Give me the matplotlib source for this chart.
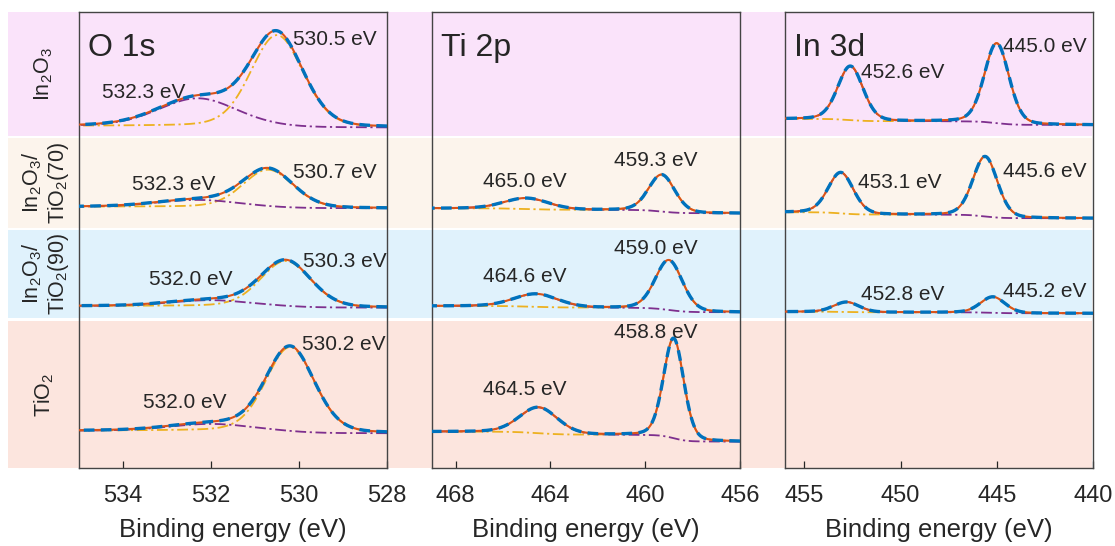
import numpy as np
import matplotlib
matplotlib.use("Agg")
import matplotlib.pyplot as plt
from matplotlib.patches import Rectangle

plt.rcParams["font.family"] = ["Liberation Sans", "DejaVu Sans"]
plt.rcParams["mathtext.fontset"] = "custom"
plt.rcParams["mathtext.rm"] = "Liberation Sans"
plt.rcParams["mathtext.it"] = "Liberation Sans:italic"

# samples, top to bottom
samples = [r"In$_2$O$_3$", "In$_2$O$_3$/\nTiO$_2$(70)",
           "In$_2$O$_3$/\nTiO$_2$(90)", r"TiO$_2$"]
band_colors = ["#fae3fa", "#fcf4ec", "#e0f2fc", "#fce5de"]

regions = ["O 1s", "Ti 2p", "In 3d"]
xlims = [(535, 528), (469, 456), (456, 440)]
xticks = [[534, 532, 530, 528], [468, 464, 460, 456], [455, 450, 445, 440]]

# fitted peaks per region and sample: (low BE peak, high BE peak)
# centers (eV), heights (a.u.), fwhm (eV); None = not measured
o1s_center = [(530.5, 532.3), (530.7, 532.3), (530.3, 532.0), (530.2, 532.0)]
o1s_height = [(92, 28), (38, 7), (46, 6), (85, 7)]
o1s_fwhm = [(1.4, 2.1), (1.35, 2.2), (1.35, 2.2), (1.3, 2.2)]
o1s_bg = [(342, 340.3), (261.3, 259.7), (162, 160.3), (37.3, 34.7)]

ti2p_center = [None, (459.3, 465.0), (459.0, 464.6), (458.8, 464.5)]
ti2p_height = [None, (37, 11), (50, 13), (100, 26)]
ti2p_fwhm = [None, (1.3, 2.2), (1.35, 2.2), (1.0, 1.9)]
ti2p_bg = [None, (259.7, 254.7), (162, 155.7), (36.3, 26.3)]

in3d_center = [(445.0, 452.6), (445.6, 453.1), (445.2, 452.8), None]
in3d_height = [(80, 54), (60, 41), (16, 10), None]
in3d_fwhm = [(1.5, 1.55), (1.5, 1.55), (1.5, 1.55), None]
in3d_bg = [(349, 343), (255.7, 249.7), (156.3, 154.7), None]

centers = [o1s_center, ti2p_center, in3d_center]
heights = [o1s_height, ti2p_height, in3d_height]
fwhms = [o1s_fwhm, ti2p_fwhm, in3d_fwhm]
bgs = [o1s_bg, ti2p_bg, in3d_bg]

# peak labels: (text, x in eV, baseline y in a.u.)
labels = [
    [("530.5 eV", 530.13, 423), ("532.3 eV", 534.48, 370),
     ("532.3 eV", 533.80, 278), ("530.7 eV", 530.14, 290),
     ("532.0 eV", 533.41, 183), ("530.3 eV", 529.92, 201.3),
     ("532.0 eV", 533.54, 59.7), ("530.2 eV", 529.94, 118)],
    [("465.0 eV", 466.83, 281.3), ("459.3 eV", 461.32, 302.3),
     ("464.6 eV", 466.83, 186.3), ("459.0 eV", 461.32, 214),
     ("464.5 eV", 466.83, 73), ("458.8 eV", 461.32, 130)],
    [("452.6 eV", 452.03, 390), ("445.0 eV", 444.68, 416.3),
     ("453.1 eV", 452.20, 280), ("445.6 eV", 444.68, 291.3),
     ("452.8 eV", 452.03, 168), ("445.2 eV", 444.68, 171.3)],
]

C_BLUE = "#0072bd"
C_RED = "#d95319"
C_YEL = "#edb120"
C_PUR = "#7e2f8e"
TXT = "#262626"


def peak(e, c, h, w, eta=0.2):
    g = np.exp(-4 * np.log(2) * ((e - c) / w) ** 2)
    lo = 1 / (1 + 4 * ((e - c) / w) ** 2)
    return h * ((1 - eta) * g + eta * lo)


def shirley(e, total_peaks, left, right):
    # e ascending; background rises toward high binding energy
    cum = np.cumsum(total_peaks)
    return right + (left - right) * cum / cum[-1]


W, H = 1115, 546
fig = plt.figure(figsize=(W / 100, H / 100), dpi=100)

# colored sample bands (pixel rows)
band_px = [(12, 136), (138, 228), (230, 318), (321, 468)]
for (t, b), col in zip(band_px, band_colors):
    fig.patches.append(Rectangle((8 / W, 1 - b / H), (1092 - 8) / W, (b - t) / H,
                                 transform=fig.transFigure, facecolor=col,
                                 edgecolor="none", zorder=-10))

label_x = [44, 46, 46, 44]
for (t, b), name, lx in zip(band_px, samples, label_x):
    fig.text(lx / W, 1 - (t + b) / 2 / H, name, rotation=90, ha="center",
             va="center", fontsize=15.5, color=TXT, multialignment="center",
             linespacing=1.1)

lefts = [79, 432, 785]
for k in range(3):
    ax = fig.add_axes([lefts[k] / W, 1 - 468 / H, 308 / W, 456 / H])
    ax.set_facecolor("none")
    ax.set_xlim(*xlims[k])
    ax.set_ylim(0, 456)
    ax.set_yticks([])
    ax.set_xticks(xticks[k])
    ax.tick_params(axis="x", direction="in", length=5, width=0.9,
                   labelsize=17, pad=12, colors=TXT)
    for s in ax.spines.values():
        s.set_color("#444444")
        s.set_linewidth(1.0)
    ax.set_xlabel("Binding energy (eV)", fontsize=18.5, color=TXT, labelpad=8.5)
    ax.text(0.03, 0.955, regions[k], transform=ax.transAxes, fontsize=23,
            color=TXT, ha="left", va="top")

    lo, hi = min(xlims[k]), max(xlims[k])
    e = np.linspace(lo, hi, 800)
    for r in range(4):
        if centers[k][r] is None:
            continue
        (c1, c2), (h1, h2), (w1, w2) = centers[k][r], heights[k][r], fwhms[k][r]
        p1 = peak(e, c1, h1, w1)
        p2 = peak(e, c2, h2, w2)
        bg = shirley(e, p1 + p2, *bgs[k][r])
        ax.plot(e, bg + p1, color=C_YEL, lw=1.3, ls=(0, (6, 2, 1.2, 2)), zorder=2)
        ax.plot(e, bg + p2, color=C_PUR, lw=1.3, ls=(0, (6, 2, 1.2, 2)), zorder=2)
        ax.plot(e, bg + p1 + p2, color=C_RED, lw=1.5, zorder=3)
        ax.plot(e, bg + p1 + p2, color=C_BLUE, lw=2.4, ls=(0, (3.2, 1.9)), zorder=4)

    for txt, x, y in labels[k]:
        ax.text(x, y, txt, fontsize=15, color=TXT, ha="left", va="baseline", zorder=5)

fig.savefig("out.png", dpi=100)
